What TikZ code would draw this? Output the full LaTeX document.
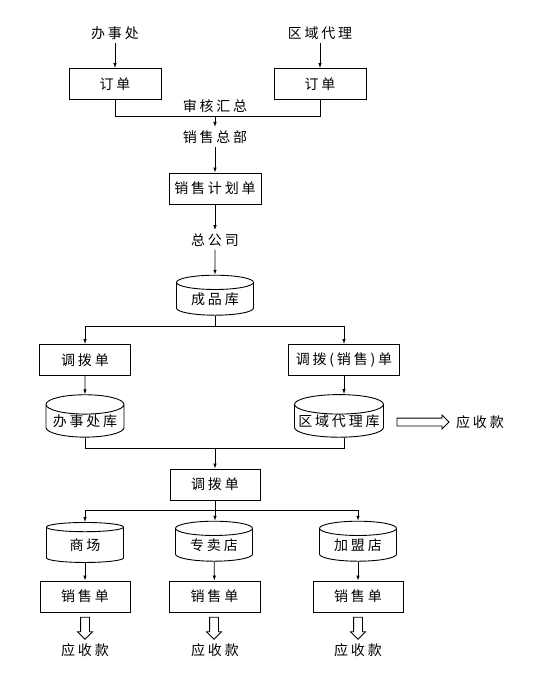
\documentclass[tikz,border=0pt]{standalone}
\usepackage{fontspec}
\setmainfont{Noto Sans CJK SC}[LetterSpace=20]
\usetikzlibrary{arrows.meta,shapes.geometric,shapes.arrows}

\begin{document}
\begin{tikzpicture}[x=1pt,y=-1pt,
    every node/.style={font=\fontsize{14}{16}\selectfont},
    box/.style={draw,line width=0.9pt,minimum height=31pt},
    ku/.style={draw,line width=0.9pt,cylinder,shape border rotate=90,aspect=0.3,
      minimum height=40pt,inner sep=0pt},
    fl/.style={line width=0.8pt},
    jt/.style={fl,-{Latex[length=5pt,width=3.5pt]}},
    kx/.style={draw,line width=0.8pt,single arrow,single arrow head extend=3pt,
      inner xsep=0pt,inner ysep=3.5pt}]
  \useasboundingbox (0,0) rectangle (540,680);
  % commandes
  \node (bsc) at (115,33) {办事处};
  \node (qydl) at (320,33) {区域代理};
  \node[box,minimum width=92pt] (dd1) at (115,84) {订单};
  \node[box,minimum width=92pt] (dd2) at (320,84) {订单};
  \coordinate (hz) at (215,116);
  \node (shhz) at (215,106) {审核汇总};
  \node (xszb) at (215,137) {销售总部};
  \node[box,minimum width=92pt] (jhd) at (215,188.5) {销售计划单};
  \node (zgs) at (215,240) {总公司};
  \node[ku,minimum width=77pt] (cpk) at (215,299) {成品库};
  \draw[jt] (bsc) -- (dd1);
  \draw[jt] (qydl) -- (dd2);
  \draw[fl] (dd1.south) |- (hz);
  \draw[fl] (dd2.south) |- (hz);
  \draw[jt] (hz) -- (xszb);
  \draw[jt] (xszb) -- (jhd);
  \draw[jt] (jhd) -- (zgs);
  \draw[jt] (zgs) -- (cpk);
  % tranferts vers les entrepots
  \coordinate (fz1) at (215,326);
  \node[box,minimum width=91pt] (dbd1) at (85,360) {调拨单};
  \node[box,minimum width=111pt] (dbd2) at (344,360) {调拨(销售)单};
  \node[ku,minimum width=78pt] (bsck) at (85,421) {办事处库};
  \node[ku,minimum width=89pt,aspect=0.24] (qyk) at (339,421) {区域代理库};
  \node[kx,minimum height=52pt] (jt1) at (421,422) {};
  \node (ysk1) at (480,422) {应收款};
  \draw[fl] (cpk.south) -- (fz1);
  \draw[jt] (fz1) -| (dbd1);
  \draw[jt] (fz1) -| (dbd2);
  \draw[jt] (dbd1) -- (bsck);
  \draw[jt] (dbd2.south) -- (dbd2.south |- qyk.north);
  \coordinate (hz2) at (215,448);
  \draw[fl] (bsck.south) |- (hz2);
  \draw[fl] (qyk.south -| dbd2) |- (hz2);
  % magasins
  \node[box,minimum width=90pt] (dbd3) at (215,484.5) {调拨单};
  \draw[jt] (hz2) -- (dbd3);
  \coordinate (fz2) at (215,510);
  \node[ku,minimum width=77pt] (sc) at (85,545) {商场};
  \node[ku,minimum width=77pt] (zmd) at (214,545) {专卖店};
  \node[ku,minimum width=77pt] (jmd) at (358,545) {加盟店};
  \draw[fl] (dbd3) -- (fz2);
  \draw[jt] (fz2) -| (sc);
  \draw[jt] (fz2) -- (fz2 |- zmd.north);
  \draw[jt] (fz2) -| (jmd);
  \node[box,minimum width=90pt] (xsd1) at (85,596.5) {销售单};
  \node[box,minimum width=91pt] (xsd2) at (214.5,596.5) {销售单};
  \node[box,minimum width=90pt] (xsd3) at (358,596.5) {销售单};
  \draw[jt] (sc) -- (xsd1);
  \draw[jt] (zmd) -- (xsd2);
  \draw[jt] (jmd) -- (xsd3);
  \node[kx,minimum height=22pt,inner ysep=4pt,rotate=-90] (jt2) at (85,626) {};
  \node[kx,minimum height=22pt,inner ysep=4pt,rotate=-90] (jt3) at (214,626) {};
  \node[kx,minimum height=22pt,inner ysep=4pt,rotate=-90] (jt4) at (358,626) {};
  \node (ysk2) at (85,650) {应收款};
  \node (ysk3) at (215,650) {应收款};
  \node (ysk4) at (358,650) {应收款};
\end{tikzpicture}
\end{document}
